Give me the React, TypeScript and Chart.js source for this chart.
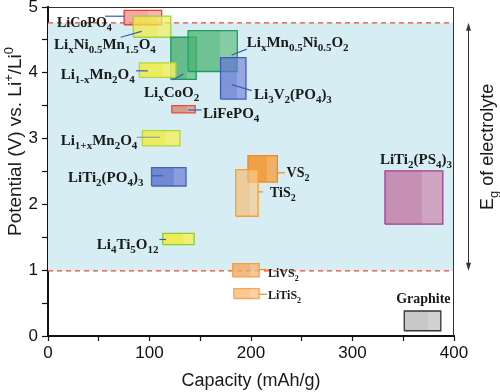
import React, { useEffect, useRef } from 'react';
import { Chart, registerables } from 'chart.js';

Chart.register(...registerables);

// ---------- data ----------
const materials = [
  'LiCoPO4', 'LixNi0.5Mn1.5O4', 'LixCoO2', 'LixMn0.5Ni0.5O2', 'Li3V2(PO4)3',
  'Li1-xMn2O4', 'LiFePO4', 'Li1+xMn2O4', 'LiTi2(PO4)3', 'Li4Ti5O12',
  'VS2', 'TiS2', 'LiVS2', 'LiTiS2', 'LiTi2(PS4)3', 'Graphite',
];
const capacityMin = [75, 84, 121, 138, 170, 90, 122, 93, 102, 113, 197, 185, 182, 183, 332, 351];
const capacityMax = [112, 121, 146, 186.5, 195, 126, 145, 130, 136, 144, 226, 207, 208, 208, 389, 387];
const potentialMin = [4.73, 4.54, 3.9, 4.02, 3.6, 3.93, 3.39, 2.89, 2.28, 1.39, 2.34, 1.82, 0.9, 0.57, 1.7, 0.08];
const potentialMax = [4.95, 4.86, 4.54, 4.64, 4.23, 4.15, 3.5, 3.12, 2.56, 1.56, 2.74, 2.53, 1.1, 0.72, 2.51, 0.38];

// [r, g, b, alpha]
const fillRGBA: number[][] = [
  [242, 140, 128, 0.75], [240, 236, 70, 0.75], [58, 168, 100, 0.72], [70, 178, 110, 0.72],
  [95, 115, 205, 0.72], [240, 236, 70, 0.85], [214, 140, 125, 0.85], [240, 236, 70, 0.85],
  [95, 120, 205, 0.85], [240, 236, 70, 0.9], [242, 148, 40, 0.85], [245, 190, 120, 0.7],
  [240, 170, 100, 0.8], [248, 190, 130, 0.85], [195, 128, 168, 0.85], [200, 200, 200, 1],
];
const borderColors = [
  '#e8413a', '#9fd23c', '#1f9a5a', '#1b9e5c', '#3d5cb8', '#b5d33a', '#e84a3c', '#b5d33a',
  '#4466bb', '#8ccc3c', '#f08c1e', '#f5a030', '#f5a040', '#f8a850', '#a03c94', '#333333',
];

const labelTexts = [
  'LiCoPO_{4}', 'Li_{x}Ni_{0.5}Mn_{1.5}O_{4}', 'Li_{x}CoO_{2}', 'Li_{x}Mn_{0.5}Ni_{0.5}O_{2}', 'Li_{3}V_{2}(PO_{4})_{3}',
  'Li_{1-x}Mn_{2}O_{4}', 'LiFePO_{4}', 'Li_{1+x}Mn_{2}O_{4}', 'LiTi_{2}(PO_{4})_{3}', 'Li_{4}Ti_{5}O_{12}',
  'VS_{2}', 'TiS_{2}', 'LiVS_{2}', 'LiTiS_{2}', 'LiTi_{2}(PS_{4})_{3}', 'Graphite',
];
const labelCapacity = [8.9, 5.9, 94.6, 195.8, 203, 12.5, 152.7, 12.5, 19.7, 48, 235, 218.7, 216.7, 216.7, 327, 343];
const labelPotential = [4.7, 4.36, 3.63, 4.39, 3.6, 3.91, 3.31, 2.9, 2.34, 1.32, 2.42, 2.11, 0.89, 0.56, 2.61, 0.5];
const labelSizes = [14, 15, 15, 15, 15, 15, 15, 15, 15, 15, 14, 14, 12, 12, 15, 14];

const leaderCap0 = [56.2, 71.6, 122.9, 181, 181, 86.7, 137.9, 87.4, 102.2, 109.7, 226, 207, 208, 208.2];
const leaderPot0 = [4.86, 4.54, 3.89, 4.27, 3.82, 4.03, 3.435, 3.02, 2.435, 1.467, 2.48, 2.19, 1.01, 0.635];
const leaderCap1 = [75.9, 92.3, 133.3, 195.8, 200.7, 98.5, 151.4, 110.3, 113.6, 116.3, 233.5, 211.8, 215.5, 215.5];
const leaderPot1 = [4.86, 4.63, 3.98, 4.36, 3.73, 4.03, 3.435, 3.02, 2.435, 1.467, 2.48, 2.19, 1.01, 0.635];
const leaderColors = [
  '#3d5cb8', '#3d5cb8', '#3d5cb8', '#3d5cb8', '#3d5cb8', '#3d5cb8', '#3d5cb8', '#9a9aa8',
  '#3d5cb8', '#3d5cb8', '#f08c1e', '#f08c1e', '#f08c1e', '#f08c1e',
];

const windowLow = 0.99;
const windowHigh = 4.76;
const xMin = 0, xMax = 400, xStep = 50;
const yMin = 0, yMax = 5, yStep = 0.5;

// ---------- rich text helpers ----------
type Part = { t: string; m: 'n' | 'sub' | 'sup' };
function parseRich(s: string): Part[] {
  const out: Part[] = [];
  const re = /([_^])\{([^}]*)\}/g;
  let last = 0;
  let m: RegExpExecArray | null;
  while ((m = re.exec(s))) {
    if (m.index > last) out.push({ t: s.slice(last, m.index), m: 'n' });
    out.push({ t: m[2], m: m[1] === '_' ? 'sub' : 'sup' });
    last = re.lastIndex;
  }
  if (last < s.length) out.push({ t: s.slice(last), m: 'n' });
  return out;
}
function fontFor(p: Part, size: number, family: string, weight: string) {
  const s = p.m === 'n' ? size : Math.round(size * 0.7);
  return `${weight} ${s}px ${family}`;
}
function richWidth(ctx: CanvasRenderingContext2D, parts: Part[], size: number, family: string, weight: string) {
  let w = 0;
  for (const p of parts) {
    ctx.font = fontFor(p, size, family, weight);
    w += ctx.measureText(p.t).width;
  }
  return w;
}
function drawRich(ctx: CanvasRenderingContext2D, parts: Part[], x: number, y: number, size: number, family: string, weight: string, color: string) {
  ctx.fillStyle = color;
  ctx.textBaseline = 'alphabetic';
  ctx.textAlign = 'left';
  let cx = x;
  for (const p of parts) {
    ctx.font = fontFor(p, size, family, weight);
    const dy = p.m === 'sub' ? size * 0.28 : p.m === 'sup' ? -size * 0.42 : 0;
    ctx.fillText(p.t, cx, y + dy);
    cx += ctx.measureText(p.t).width;
  }
}

const SERIF = '"Liberation Serif", "Times New Roman", serif';
const SANS = '"Liberation Sans", Arial, sans-serif';

const annotations = {
  id: 'annotations',
  afterDatasetsDraw(chart: any) {
    const ctx: CanvasRenderingContext2D = chart.ctx;
    const xs = chart.scales.x;
    const ys = chart.scales.y;
    ctx.save();
    for (let i = 0; i < leaderCap0.length; i++) {
      ctx.beginPath();
      ctx.strokeStyle = leaderColors[i];
      ctx.lineWidth = 1.2;
      ctx.moveTo(xs.getPixelForValue(leaderCap0[i]), ys.getPixelForValue(leaderPot0[i]));
      ctx.lineTo(xs.getPixelForValue(leaderCap1[i]), ys.getPixelForValue(leaderPot1[i]));
      ctx.stroke();
    }
    for (let i = 0; i < labelTexts.length; i++) {
      drawRich(ctx, parseRich(labelTexts[i]), xs.getPixelForValue(labelCapacity[i]), ys.getPixelForValue(labelPotential[i]),
        labelSizes[i], SERIF, 'bold', '#1a1a1a');
    }
    ctx.restore();
  },
  afterDraw(chart: any) {
    const ctx: CanvasRenderingContext2D = chart.ctx;
    const a = chart.chartArea;
    const ys = chart.scales.y;
    ctx.save();
    ctx.strokeStyle = '#333';
    ctx.lineWidth = 1;
    ctx.beginPath();
    ctx.moveTo(a.left, a.top + 0.5);
    ctx.lineTo(a.right - 0.5, a.top + 0.5);
    ctx.lineTo(a.right - 0.5, a.bottom);
    ctx.stroke();
    const ax = a.right + 14.5;
    const yTop = ys.getPixelForValue(windowHigh);
    const yBot = ys.getPixelForValue(windowLow);
    ctx.strokeStyle = '#333';
    ctx.fillStyle = '#333';
    ctx.lineWidth = 1;
    ctx.beginPath();
    ctx.moveTo(ax, yTop + 4);
    ctx.lineTo(ax, yBot - 4);
    ctx.stroke();
    ctx.beginPath();
    ctx.moveTo(ax, yTop); ctx.lineTo(ax - 2.5, yTop + 8); ctx.lineTo(ax + 2.5, yTop + 8); ctx.closePath(); ctx.fill();
    ctx.beginPath();
    ctx.moveTo(ax, yBot); ctx.lineTo(ax - 2.5, yBot - 8); ctx.lineTo(ax + 2.5, yBot - 8); ctx.closePath(); ctx.fill();
    const egParts = parseRich('E_{g} of electrolyte');
    const egW = richWidth(ctx, egParts, 18, SANS, 'normal');
    ctx.save();
    ctx.translate(a.right + 39, (yTop + yBot) / 2);
    ctx.rotate(-Math.PI / 2);
    drawRich(ctx, egParts, -egW / 2, 0, 18, SANS, 'normal', '#1a1a1a');
    ctx.restore();
    const ytParts = parseRich('Potential (V) vs. Li^{+}/Li^{0}');
    const ytW = richWidth(ctx, ytParts, 19, SANS, 'normal');
    ctx.save();
    ctx.translate(21, (a.top + a.bottom) / 2 - 30);
    ctx.rotate(-Math.PI / 2);
    drawRich(ctx, ytParts, -ytW / 2, 0, 19, SANS, 'normal', '#1a1a1a');
    ctx.restore();
    ctx.restore();
  },
};

function rectPath(i: number) {
  return [
    { x: capacityMin[i], y: potentialMin[i] },
    { x: capacityMax[i], y: potentialMin[i] },
    { x: capacityMax[i], y: potentialMax[i] },
    { x: capacityMin[i], y: potentialMax[i] },
    { x: capacityMin[i], y: potentialMin[i] },
  ];
}

function rgba(c: number[], lighten = 0) {
  const r = Math.round(c[0] + (255 - c[0]) * lighten);
  const g = Math.round(c[1] + (255 - c[1]) * lighten);
  const b = Math.round(c[2] + (255 - c[2]) * lighten);
  return `rgba(${r},${g},${b},${c[3]})`;
}

function twoToneFill(i: number) {
  return (context: any) => {
    const chart = context.chart;
    const xs = chart.scales && chart.scales.x;
    const c = fillRGBA[i];
    if (!xs || !chart.chartArea) return rgba(c);
    const x0 = xs.getPixelForValue(capacityMin[i]);
    const x1 = xs.getPixelForValue(capacityMax[i]);
    if (!isFinite(x0) || !isFinite(x1) || x1 <= x0) return rgba(c);
    const g = chart.ctx.createLinearGradient(x0, 0, x1, 0);
    g.addColorStop(0, rgba(c));
    g.addColorStop(0.64, rgba(c));
    g.addColorStop(0.64, rgba(c, 0.18));
    g.addColorStop(1, rgba(c, 0.18));
    return g;
  };
}

export default function App() {
  const ref = useRef<HTMLCanvasElement>(null);
  useEffect(() => {
    const datasets: any[] = [];
    materials.forEach((name, i) => {
      datasets.push({
        label: name,
        data: rectPath(i),
        showLine: true,
        fill: 'shape',
        backgroundColor: twoToneFill(i),
        borderColor: borderColors[i],
        borderWidth: 1.3,
        pointRadius: 0,
        tension: 0,
        order: 10 + (materials.length - i),
      });
    });
    datasets.push({
      label: 'window-high',
      data: [{ x: xMin, y: windowHigh }, { x: xMax, y: windowHigh }],
      showLine: true, fill: false, borderColor: '#ef4a2a', borderWidth: 1.3, borderDash: [5, 4], pointRadius: 0, order: 90,
    });
    datasets.push({
      label: 'window-low',
      data: [{ x: xMin, y: windowLow }, { x: xMax, y: windowLow }],
      showLine: true, fill: false, borderColor: '#ef4a2a', borderWidth: 1.3, borderDash: [5, 4], pointRadius: 0, order: 91,
    });
    datasets.push({
      label: 'band',
      data: [
        { x: xMin, y: windowLow }, { x: xMax, y: windowLow }, { x: xMax, y: windowHigh },
        { x: xMin, y: windowHigh }, { x: xMin, y: windowLow },
      ],
      showLine: true, fill: 'shape', backgroundColor: '#d6edf4', borderWidth: 0, borderColor: 'rgba(0,0,0,0)', pointRadius: 0, order: 100,
    });

    const chart = new Chart(ref.current!, {
      type: 'scatter',
      data: { datasets },
      options: {
        animation: false,
        responsive: true,
        maintainAspectRatio: false,
        layout: { padding: { top: 7, right: 46, left: 0, bottom: 0 } },
        plugins: { legend: { display: false }, tooltip: { enabled: false } },
        scales: {
          x: {
            type: 'linear', min: xMin, max: xMax,
            ticks: {
              stepSize: xStep,
              color: '#111',
              font: { family: SANS, size: 17 },
              padding: 2,
              maxRotation: 0,
              callback: (v: any) => (Number(v) % 100 === 0 ? String(v) : ''),
            },
            grid: { drawOnChartArea: false, tickLength: 5, color: '#111', tickWidth: 1.2 },
            border: { display: true, color: '#111', width: 2 },
            title: { display: true, text: 'Capacity (mAh/g)', color: '#1a1a1a', font: { family: SANS, size: 18 }, padding: { top: 0, bottom: 0 } },
            afterFit: (s: any) => { s.height = 56; s.paddingLeft = 0; s.paddingRight = 0; },
          },
          y: {
            type: 'linear', min: yMin, max: yMax,
            ticks: {
              stepSize: yStep,
              color: '#111',
              font: { family: SANS, size: 17 },
              padding: 4,
              callback: (v: any) => (Number.isInteger(Number(v)) ? String(v) : ''),
            },
            grid: { drawOnChartArea: false, tickLength: 6, color: '#111', tickWidth: 1.2 },
            border: { display: true, color: '#111', width: 2 },
            afterFit: (s: any) => { s.width = 48; s.paddingTop = 0; s.paddingBottom = 0; },
          },
        },
      } as any,
      plugins: [annotations],
    });
    return () => chart.destroy();
  }, []);
  return (
    <div style={{ position: 'fixed', left: 0, top: 0, width: 500, height: 392, background: '#fff' }}>
      <canvas ref={ref} />
    </div>
  );
}
